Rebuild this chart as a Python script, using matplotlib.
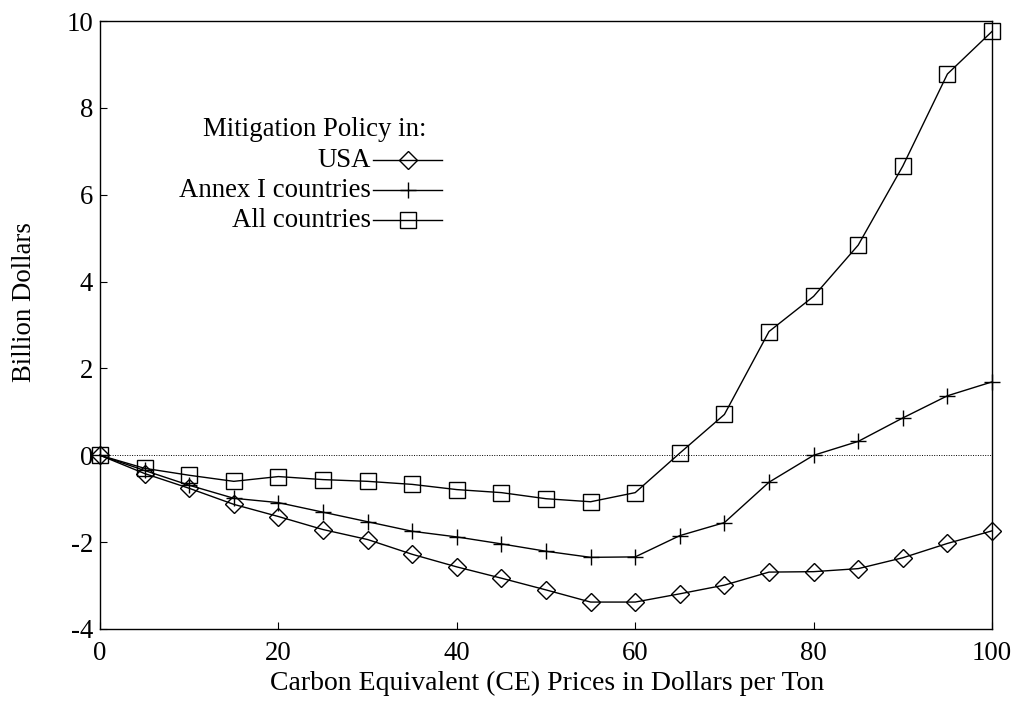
import matplotlib
matplotlib.use('Agg')
import matplotlib.pyplot as plt

plt.rcParams['font.family'] = ['Liberation Serif', 'DejaVu Serif']

# data
prices = [0, 5, 10, 15, 20, 25, 30, 35, 40, 45, 50, 55, 60, 65, 70, 75, 80, 85, 90, 95, 100]
usa = [0, -0.42, -0.76, -1.13, -1.41, -1.71, -1.94, -2.28, -2.57, -2.83, -3.10, -3.38, -3.38,
       -3.19, -2.99, -2.69, -2.68, -2.61, -2.36, -2.03, -1.74]
annex1 = [0, -0.35, -0.69, -0.99, -1.09, -1.31, -1.53, -1.75, -1.88, -2.04, -2.21, -2.35, -2.34,
          -1.85, -1.55, -0.62, 0.0, 0.32, 0.86, 1.37, 1.69]
all_countries = [0, -0.30, -0.46, -0.60, -0.49, -0.56, -0.60, -0.67, -0.79, -0.86, -1.00, -1.07, -0.86,
                 0.05, 0.94, 2.85, 3.66, 4.84, 6.66, 8.78, 9.76]

labels = ['USA', 'Annex I countries', 'All countries']
markers = ['D', '+', 's']
msizes = [9, 12, 11]
x_ticks = [0, 20, 40, 60, 80, 100]
y_ticks = [-4, -2, 0, 2, 4, 6, 8, 10]

fs = 19.3

fig = plt.figure(figsize=(10.16, 7.1), dpi=100)
ax = fig.add_axes([0.0984, 0.1141, 0.878, 0.8563])

ax.plot([prices[0], prices[-1]], [0, 0], color='black', lw=0.7, ls=(0, (1, 1.5)))

series = [usa, annex1, all_countries]
for vals, lab, m, ms in zip(series, labels, markers, msizes):
    ax.plot(prices, vals, color='black', lw=1.0, marker=m, ms=ms, mfc='none',
            mec='black', mew=1.0, label=lab, clip_on=False)

ax.set_xlim(0, 100)
ax.set_ylim(-4, 10)
ax.set_xticks(x_ticks)
ax.set_yticks(y_ticks)
ax.set_yticklabels([str(v) for v in y_ticks])
ax.tick_params(direction='in', length=5, width=0.8, labelsize=fs)
ax.tick_params(axis='x', pad=9)
ax.tick_params(axis='y', pad=5)
for s in ax.spines.values():
    s.set_linewidth(1.0)

fig.text(547 / 1016, 1 - 683 / 710, 'Carbon Equivalent (CE) Prices in Dollars per Ton',
         fontsize=20, ha='center', va='center')
fig.text(25 / 1016, 1 - 302 / 710, 'Billion Dollars', rotation=90, fontsize=fs,
         ha='center', va='center')

# gnuplot-style key: right aligned text, sample line to the right
ax.text(0.241, 0.822, 'Mitigation Policy in:', transform=ax.transAxes, fontsize=fs,
        ha='center', va='center')
key_y = [0.771, 0.722, 0.672]
for ky, lab, m, ms in zip(key_y, labels, markers, msizes):
    ax.text(0.304, ky, lab, transform=ax.transAxes, fontsize=fs, ha='right', va='center')
    ax.plot([0.306, 0.345, 0.383], [ky, ky, ky], transform=ax.transAxes, color='black',
            lw=1.0, marker=m, ms=ms, mfc='none', mec='black', mew=1.0, markevery=[1])

fig.savefig('out.png', dpi=100)
